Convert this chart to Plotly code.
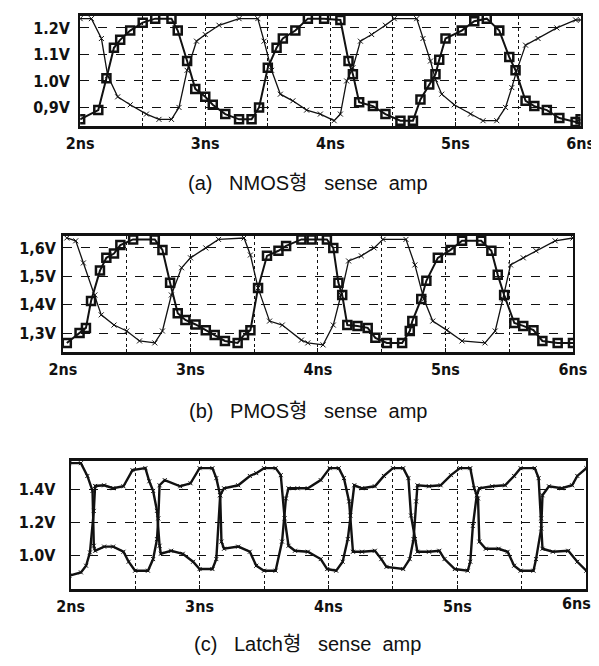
import plotly.graph_objects as go

W, H = 599, 666

# ---------- panel (a) NMOS ----------
a_sq_t = [2.0, 2.145, 2.21, 2.27, 2.32, 2.40, 2.50, 2.60, 2.73, 2.78, 2.855, 2.92, 3.0, 3.06, 3.16, 3.27, 3.37, 3.43, 3.50, 3.57, 3.62, 3.72, 3.82, 3.95, 4.08, 4.145, 4.18, 4.23, 4.34, 4.44, 4.56, 4.66, 4.72, 4.79, 4.84, 4.87, 4.92, 5.05, 5.15, 5.25, 5.35, 5.43, 5.48, 5.56, 5.63, 5.73, 5.83, 5.96, 6.0]
a_sq_v = [0.855, 0.89, 1.01, 1.125, 1.155, 1.19, 1.22, 1.235, 1.235, 1.19, 1.075, 0.97, 0.94, 0.91, 0.875, 0.855, 0.855, 0.9, 1.05, 1.125, 1.16, 1.19, 1.235, 1.235, 1.23, 1.075, 1.025, 0.92, 0.905, 0.875, 0.85, 0.85, 0.93, 0.987, 1.025, 1.08, 1.16, 1.19, 1.225, 1.235, 1.19, 1.09, 1.04, 0.925, 0.905, 0.89, 0.86, 0.845, 0.855]
a_x_t = [2.0, 2.09, 2.17, 2.22, 2.30, 2.40, 2.53, 2.63, 2.73, 2.79, 2.855, 2.93, 3.0, 3.11, 3.27, 3.42, 3.47, 3.53, 3.60, 3.70, 3.81, 3.92, 4.03, 4.08, 4.13, 4.18, 4.24, 4.33, 4.44, 4.51, 4.69, 4.74, 4.80, 4.84, 4.89, 4.99, 5.12, 5.22, 5.33, 5.40, 5.45, 5.49, 5.56, 5.66, 5.81, 5.96, 6.0]
a_x_v = [1.235, 1.235, 1.16, 1.02, 0.94, 0.91, 0.875, 0.855, 0.855, 0.9, 1.04, 1.15, 1.175, 1.21, 1.235, 1.235, 1.15, 1.04, 0.95, 0.925, 0.89, 0.875, 0.85, 0.875, 1.0, 1.05, 1.15, 1.175, 1.21, 1.235, 1.235, 1.16, 1.075, 1.005, 0.95, 0.91, 0.875, 0.85, 0.85, 0.9, 0.975, 1.04, 1.135, 1.16, 1.2, 1.23, 1.23]
a_yticks = [0.9, 1.0, 1.1, 1.2]
a_ylabels = ["0,9V", "1.0V", "1.1V", "1.2V"]

# ---------- panel (b) PMOS ----------
b_sq_t = [2.03, 2.13, 2.18, 2.22, 2.29, 2.34, 2.40, 2.45, 2.55, 2.72, 2.78, 2.84, 2.90, 2.96, 3.04, 3.12, 3.19, 3.27, 3.37, 3.42, 3.47, 3.53, 3.60, 3.69, 3.75, 3.87, 3.95, 4.07, 4.12, 4.16, 4.19, 4.23, 4.31, 4.39, 4.45, 4.54, 4.66, 4.72, 4.74, 4.81, 4.85, 4.94, 5.04, 5.13, 5.28, 5.36, 5.41, 5.46, 5.54, 5.61, 5.69, 5.76, 5.88, 6.0]
b_sq_v = [1.265, 1.30, 1.318, 1.413, 1.52, 1.565, 1.58, 1.61, 1.63, 1.63, 1.593, 1.477, 1.37, 1.346, 1.33, 1.31, 1.293, 1.272, 1.265, 1.293, 1.31, 1.459, 1.572, 1.59, 1.607, 1.63, 1.63, 1.63, 1.60, 1.477, 1.434, 1.328, 1.325, 1.318, 1.283, 1.265, 1.265, 1.307, 1.342, 1.42, 1.484, 1.565, 1.593, 1.625, 1.625, 1.59, 1.505, 1.434, 1.335, 1.325, 1.31, 1.272, 1.265, 1.265]
b_x_t = [2.03, 2.10, 2.16, 2.25, 2.30, 2.40, 2.50, 2.60, 2.72, 2.78, 2.85, 2.93, 3.0, 3.12, 3.22, 3.42, 3.47, 3.53, 3.62, 3.72, 3.87, 3.92, 4.04, 4.12, 4.18, 4.24, 4.34, 4.44, 4.51, 4.69, 4.76, 4.83, 4.90, 5.01, 5.13, 5.31, 5.39, 5.45, 5.51, 5.61, 5.71, 5.86, 6.0]
b_x_v = [1.635, 1.625, 1.547, 1.434, 1.364, 1.328, 1.307, 1.272, 1.265, 1.307, 1.434, 1.53, 1.565, 1.60, 1.63, 1.635, 1.575, 1.459, 1.342, 1.328, 1.275, 1.265, 1.258, 1.328, 1.434, 1.554, 1.572, 1.60, 1.63, 1.63, 1.54, 1.42, 1.342, 1.31, 1.272, 1.265, 1.307, 1.42, 1.54, 1.565, 1.59, 1.625, 1.635]
b_yticks = [1.3, 1.4, 1.5, 1.6]
b_ylabels = ["1,3V", "1,4V", "1,5V", "1,6V"]

# ---------- panel (c) Latch ----------
c_p_t = [1.99, 2.08, 2.13, 2.17, 2.18, 2.19, 2.26, 2.33, 2.41, 2.45, 2.50, 2.60, 2.64, 2.67, 2.68, 2.69, 2.73, 2.85, 2.93, 3.0, 3.10, 3.13, 3.16, 3.17, 3.19, 3.30, 3.39, 3.44, 3.50, 3.59, 3.64, 3.67, 3.69, 3.76, 3.84, 3.94, 4.01, 4.08, 4.12, 4.16, 4.19, 4.26, 4.36, 4.41, 4.45, 4.58, 4.63, 4.66, 4.68, 4.69, 4.78, 4.87, 4.95, 5.02, 5.10, 5.13, 5.16, 5.17, 5.22, 5.32, 5.39, 5.44, 5.49, 5.59, 5.61, 5.65, 5.66, 5.71, 5.81, 5.89, 5.93, 6.0]
c_p_v = [1.557, 1.557, 1.48, 1.39, 1.06, 1.03, 1.055, 1.055, 1.024, 0.964, 0.91, 0.91, 0.98, 1.10, 1.225, 1.424, 1.455, 1.418, 1.436, 1.527, 1.527, 1.467, 1.364, 1.085, 1.042, 1.055, 1.024, 0.94, 0.91, 0.91, 1.085, 1.345, 1.406, 1.406, 1.406, 1.455, 1.527, 1.527, 1.467, 1.327, 1.024, 1.024, 1.03, 0.98, 0.933, 0.92, 0.98, 1.10, 1.327, 1.424, 1.418, 1.424, 1.485, 1.527, 1.527, 1.406, 1.345, 1.085, 1.042, 1.042, 1.024, 0.94, 0.91, 0.91, 0.98, 1.164, 1.364, 1.418, 1.406, 1.424, 1.48, 1.527]
c_q_t = [1.99, 2.08, 2.12, 2.15, 2.18, 2.19, 2.26, 2.33, 2.41, 2.48, 2.58, 2.61, 2.64, 2.67, 2.69, 2.70, 2.78, 2.87, 2.95, 3.0, 3.10, 3.13, 3.16, 3.19, 3.30, 3.39, 3.44, 3.50, 3.59, 3.63, 3.66, 3.69, 3.74, 3.84, 3.94, 3.99, 4.06, 4.11, 4.15, 4.17, 4.20, 4.26, 4.36, 4.43, 4.50, 4.58, 4.62, 4.64, 4.67, 4.69, 4.78, 4.86, 4.90, 4.98, 5.08, 5.10, 5.12, 5.15, 5.17, 5.27, 5.37, 5.44, 5.49, 5.60, 5.63, 5.65, 5.66, 5.74, 5.86, 5.93, 6.0]
c_q_v = [0.88, 0.90, 0.94, 1.02, 1.27, 1.42, 1.424, 1.406, 1.418, 1.515, 1.527, 1.448, 1.39, 1.27, 1.06, 1.012, 1.03, 1.012, 0.964, 0.92, 0.92, 0.98, 1.364, 1.406, 1.424, 1.48, 1.497, 1.527, 1.527, 1.485, 1.225, 1.06, 1.03, 1.024, 0.98, 0.92, 0.91, 0.964, 1.10, 1.242, 1.424, 1.406, 1.418, 1.48, 1.527, 1.527, 1.467, 1.242, 1.10, 1.024, 1.024, 1.03, 0.98, 0.92, 0.91, 0.964, 1.18, 1.364, 1.406, 1.418, 1.424, 1.48, 1.527, 1.527, 1.467, 1.225, 1.042, 1.024, 1.03, 0.964, 0.91]
c_yticks = [1.0, 1.2, 1.4]
c_ylabels = ["1.0V", "1.2V", "1.4V"]

x_ticks = [2, 3, 4, 5, 6]
x_labels = ["2ns", "3ns", "4ns", "5ns", "6ns"]
NB = "\u00a0"
captions = ["(a)" + NB * 3 + "NMOS형" + NB * 3 + "sense" + NB * 2 + "amp",
            "(b)" + NB * 3 + "PMOS형" + NB * 3 + "sense" + NB * 2 + "amp",
            "(c)" + NB * 3 + "Latch형" + NB * 3 + "sense" + NB * 2 + "amp"]

# pixel boxes (left, right, top, bottom) and y ranges
boxes = [(61, 586, 8, 118), (43, 578, 228, 344), (51, 592, 453, 581)]
yranges = [[0.83, 1.245], [1.233, 1.642], [0.8, 1.57]]
ytick_sets = [(a_yticks, a_ylabels), (b_yticks, b_ylabels), (c_yticks, c_ylabels)]
y_standoff = [5, 2, 10]
caption_y = [175, 403, 636]

fig = go.Figure()
BLK = "#111111"

def add_line(t, v, k, symbol, msize, lw, mlw):
    sfx = "" if k == 1 else str(k)
    fig.add_trace(go.Scatter(
        x=t, y=v, mode="lines+markers", xaxis="x" + sfx, yaxis="y" + sfx,
        line=dict(color=BLK, width=lw),
        marker=dict(symbol=symbol, size=msize, color=BLK, line=dict(color=BLK, width=mlw)),
        showlegend=False, hoverinfo="skip"))

add_line(a_x_t, a_x_v, 1, "x-thin", 5, 1.3, 1)
add_line(a_sq_t, a_sq_v, 1, "square-open", 8, 2, 2.5)
add_line(b_x_t, b_x_v, 2, "x-thin", 5, 1.3, 1)
add_line(b_sq_t, b_sq_v, 2, "square-open", 8, 2, 2.5)
add_line(c_p_t, c_p_v, 3, "x-thin", 4, 2.4, 1)
add_line(c_q_t, c_q_v, 3, "x-thin", 4, 2.4, 1)

tickfont = dict(family="'DejaVu Sans Condensed', 'Roboto Condensed', 'Liberation Sans Narrow', 'Liberation Sans', sans-serif",
                size=16, color=BLK, weight="bold")
layout = dict(width=W, height=H, margin=dict(l=0, r=0, t=0, b=0),
              paper_bgcolor="white", plot_bgcolor="white", showlegend=False)

annotations = []
for i, ((l, r, t, b), yr, (yt, yl), cy) in enumerate(zip(boxes, yranges, ytick_sets, caption_y)):
    sfx = "" if i == 0 else str(i + 1)
    # last panel: the "6ns" label would run off the page edge, so it is drawn as a right-anchored annotation
    tv = x_ticks if i < 2 else x_ticks[:-1]
    tt = x_labels if i < 2 else x_labels[:-1]
    layout["xaxis" + sfx] = dict(
        domain=[l / W, r / W], range=[2, 6], anchor="y" + sfx,
        tickvals=tv, ticktext=tt, tickfont=tickfont,
        ticks="inside", ticklen=4, tickcolor=BLK, ticklabelstandoff=1,
        showline=True, linecolor=BLK, linewidth=2.5, mirror=True,
        showgrid=True, gridcolor=BLK, griddash="dot", gridwidth=1,
        minor=dict(dtick=0.5, showgrid=True, gridcolor=BLK, griddash="dot", gridwidth=1,
                   ticks="inside", ticklen=3, tickcolor=BLK),
        zeroline=False, fixedrange=True)
    layout["yaxis" + sfx] = dict(
        domain=[1 - b / H, 1 - t / H], range=yr, anchor="x" + sfx,
        tickvals=yt, ticktext=yl, tickfont=tickfont, ticklabelstandoff=y_standoff[i],
        showline=True, linecolor=BLK, linewidth=2, mirror=True,
        showgrid=True, gridcolor=BLK, griddash="dash", gridwidth=1,
        zeroline=False, fixedrange=True)
    annotations.append(dict(text=captions[i], x=0.5, y=1 - cy / H, xref="paper", yref="paper",
                            showarrow=False, xanchor="center", yanchor="middle",
                            font=dict(family="'Liberation Sans', 'Noto Sans CJK KR', sans-serif", size=20, color=BLK)))

annotations.append(dict(text=x_labels[-1], x=1.0, y=1 - 581 / H, xref="paper", yref="paper",
                        showarrow=False, xanchor="right", yanchor="top", yshift=-3,
                        font=tickfont))
layout["annotations"] = annotations
fig.update_layout(**layout)
fig.write_html("out.html")
